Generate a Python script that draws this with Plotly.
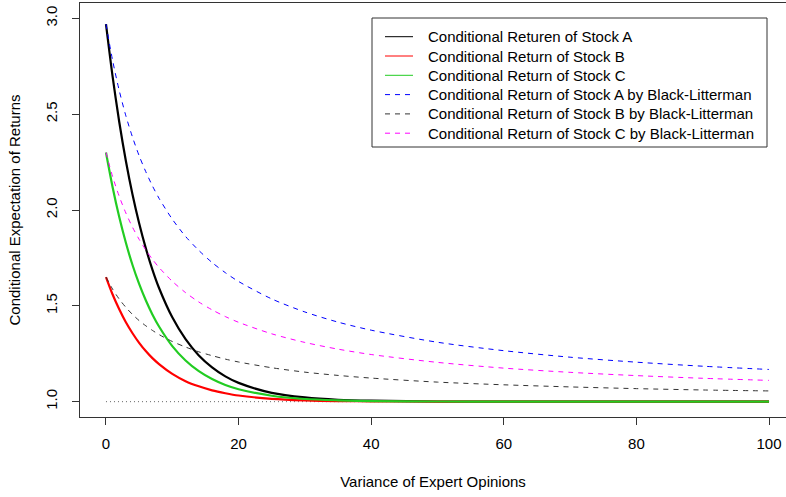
import plotly.graph_objects as go

# Variance of expert opinions (x) and conditional expected returns
variance = [0, 1, 2, 3, 4, 5, 6, 7, 8, 10, 12, 14, 16, 18, 20, 25, 30, 35, 40, 50, 60, 70, 80, 90, 100]

stock_a = [2.970, 2.696, 2.459, 2.256, 2.081, 1.931, 1.801, 1.689, 1.593, 1.440, 1.326, 1.241, 1.179,
           1.132, 1.098, 1.046, 1.022, 1.010, 1.005, 1.001, 1.000, 1.000, 1.000, 1.000, 1.000]
stock_b = [1.650, 1.559, 1.482, 1.414, 1.357, 1.307, 1.264, 1.227, 1.196, 1.145, 1.107, 1.080, 1.059,
           1.044, 1.032, 1.015, 1.007, 1.003, 1.002, 1.000, 1.000, 1.000, 1.000, 1.000, 1.000]
stock_c = [2.300, 2.119, 1.963, 1.829, 1.713, 1.614, 1.529, 1.455, 1.392, 1.290, 1.215, 1.159, 1.118,
           1.087, 1.065, 1.031, 1.014, 1.007, 1.003, 1.001, 1.000, 1.000, 1.000, 1.000, 1.000]
bl_a = [2.970, 2.780, 2.623, 2.491, 2.380, 2.283, 2.200, 2.126, 2.061, 1.952, 1.862, 1.789, 1.726,
        1.673, 1.627, 1.536, 1.468, 1.415, 1.373, 1.310, 1.266, 1.232, 1.206, 1.185, 1.168]
bl_b = [1.650, 1.587, 1.535, 1.492, 1.455, 1.423, 1.396, 1.372, 1.350, 1.314, 1.285, 1.260, 1.240,
        1.222, 1.207, 1.177, 1.154, 1.137, 1.123, 1.102, 1.088, 1.077, 1.068, 1.061, 1.056]
bl_c = [2.300, 2.174, 2.071, 1.984, 1.910, 1.847, 1.792, 1.743, 1.700, 1.628, 1.569, 1.520, 1.479,
        1.444, 1.414, 1.354, 1.309, 1.274, 1.246, 1.205, 1.175, 1.153, 1.136, 1.122, 1.111]

baseline_x = [0, 100]
baseline_y = [1.0, 1.0]

x_ticks = [0, 20, 40, 60, 80, 100]
y_ticks = [1.0, 1.5, 2.0, 2.5, 3.0]
y_tick_labels = ["1.0", "1.5", "2.0", "2.5", "3.0"]

series_names = [
    "Conditional Returen of Stock A",
    "Conditional Return of Stock B",
    "Conditional Return of Stock C",
    "Conditional Return of Stock A by Black-Litterman",
    "Conditional Return of Stock B by Black-Litterman",
    "Conditional Return of Stock C by Black-Litterman",
]
series_values = [stock_a, stock_b, stock_c, bl_a, bl_b, bl_c]
series_colors = ["black", "#ff0000", "#22cc22", "#0000ff", "#333333", "#ff00ff"]
series_dash = ["solid", "solid", "solid", "5px,5px", "5px,5px", "5px,5px"]
series_width = [2.2, 2.2, 2.2, 1, 1, 1]

FONT = "Liberation Sans, Arial, Helvetica, sans-serif"
FS = 15

# plot area in pixels (for placing the legend box)
L, T, W, H = 80, 3, 706, 414


def px(xp):
    return (xp - L) / W


def py(yp):
    return 1 - (yp - T) / H


fig = go.Figure()
fig.add_trace(go.Scatter(x=baseline_x, y=baseline_y, mode="lines", showlegend=False,
                         line=dict(color="#666666", width=1, dash="1px,3px"), hoverinfo="skip"))
for name, vals, color, dash, w in zip(series_names, series_values, series_colors, series_dash, series_width):
    fig.add_trace(go.Scatter(x=variance, y=vals, mode="lines", name=name, showlegend=False,
                             line=dict(color=color, width=w, dash=dash, shape="spline", smoothing=0.8)))

# legend drawn as box + line samples + text
shapes = [dict(type="rect", xref="paper", yref="paper", x0=px(372), x1=px(767), y0=py(147), y1=py(18),
               line=dict(color="#333333", width=1), fillcolor="white", layer="above")]
annotations = []
for i, (name, color, dash) in enumerate(zip(series_names, series_colors, series_dash)):
    yrow = py(36.7 + 19.3 * i)
    shapes.append(dict(type="line", xref="paper", yref="paper", x0=px(385), x1=px(413), y0=yrow, y1=yrow,
                       line=dict(color=color, width=1, dash=dash), layer="above"))
    annotations.append(dict(text=name, xref="paper", yref="paper", x=px(426), y=yrow,
                            xanchor="left", yanchor="middle", showarrow=False,
                            font=dict(family=FONT, size=FS, color="black")))

fig.update_layout(
    width=786, height=497,
    margin=dict(l=L, r=0, t=T, b=497 - T - H),
    paper_bgcolor="white", plot_bgcolor="white",
    font=dict(family=FONT, size=FS, color="black"),
    showlegend=False,
    shapes=shapes,
    annotations=annotations,
    xaxis=dict(range=[-3.92, 102.56], tickvals=x_ticks, ticks="outside", ticklen=7,
               tickcolor="#333333", showline=True, linecolor="#333333", linewidth=1,
               mirror=True, showgrid=False, zeroline=False, ticklabelstandoff=6,
               title=dict(text="Variance of Expert Opinions", standoff=25,
                          font=dict(family=FONT, size=FS)),
               tickfont=dict(family=FONT, size=FS)),
    yaxis=dict(range=[0.92, 3.08], tickvals=y_ticks, ticktext=y_tick_labels, ticks="outside",
               ticklen=7, tickcolor="#333333", showline=True, linecolor="#333333", linewidth=1,
               showgrid=False, zeroline=False, tickangle=-90, ticklabelstandoff=9,
               title=dict(text="Conditional Expectation of Returns", standoff=18,
                          font=dict(family=FONT, size=FS)),
               tickfont=dict(family=FONT, size=FS)),
)

fig.write_html("out.html")
